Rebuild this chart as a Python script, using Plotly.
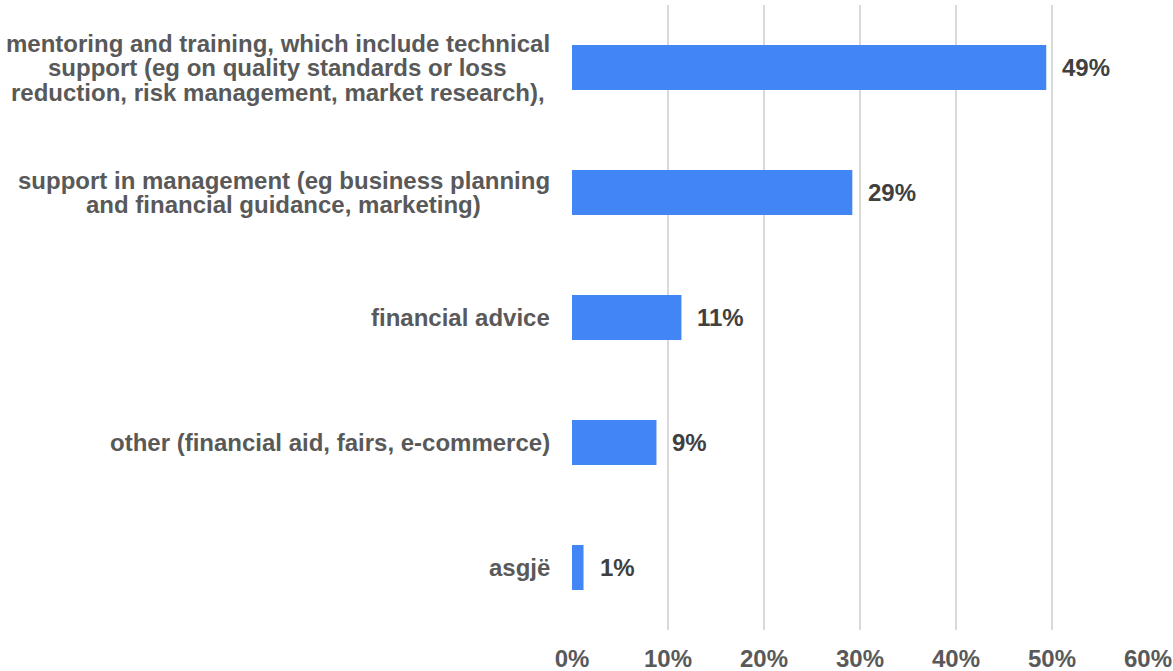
import plotly.graph_objects as go

# Share of respondents naming each type of support
categories = [
    "mentoring and training, which include technical\nsupport (eg on quality standards or loss\nreduction, risk management, market research),",
    "support in management (eg business planning\nand financial guidance, marketing)",
    "financial advice",
    "other (financial aid, fairs, e-commerce)",
    "asgjë",
]
shares = [49.4, 29.2, 11.4, 8.8, 1.2]
tick_values = [0, 10, 20, 30, 40, 50, 60]
tick_labels = ["0%", "10%", "20%", "30%", "40%", "50%", "60%"]

FONT = "Arial, Liberation Sans, sans-serif"
BAR_BLUE = "#4285F4"
TEXT_GREY = "#595959"
LABEL_GREY = "#404040"
FONT_SIZE = 24
LINE_STEP = 24.5   # tight line spacing for wrapped category names
LABEL_GAP = 22     # gap between label block and plot area

# Arial Bold advance widths (1/1000 em) used to centre wrapped lines
_W = {" ": 278, "(": 333, ")": 333, ",": 278, "-": 333, ".": 278, "%": 889,
      "a": 556, "b": 611, "c": 556, "d": 611, "e": 556, "f": 333, "g": 611,
      "h": 611, "i": 278, "j": 278, "k": 556, "l": 278, "m": 889, "n": 611,
      "o": 611, "p": 611, "q": 611, "r": 389, "s": 556, "t": 333, "u": 611,
      "v": 556, "w": 778, "x": 556, "y": 556, "z": 500, "ë": 556}


def text_width(s, size=FONT_SIZE):
    return sum(_W.get(ch, 556) for ch in s) * size / 1000


fig = go.Figure(
    go.Bar(
        x=shares,
        y=categories,
        orientation="h",
        width=0.36,
        marker=dict(color=BAR_BLUE, line=dict(width=0)),
        hoverinfo="skip",
    )
)

# value labels to the right of each bar
for cat, val in zip(categories, shares):
    fig.add_annotation(
        x=val, y=cat, xref="x", yref="y",
        text=f"{val:.0f}%", showarrow=False,
        xanchor="left", yanchor="middle", xshift=14,
        font=dict(family=FONT, size=FONT_SIZE, color=LABEL_GREY, weight="bold"),
    )

# category labels: right-aligned block, each wrapped line centred in it
for cat in categories:
    lines = cat.split("\n")
    n = len(lines)
    block_w = max(text_width(s) for s in lines)
    for i, line in enumerate(lines):
        fig.add_annotation(
            x=0, y=cat, xref="paper", yref="y",
            text=line, showarrow=False,
            xanchor="center", yanchor="middle",
            xshift=-LABEL_GAP - block_w / 2,
            yshift=((n - 1) / 2 - i) * LINE_STEP,
            font=dict(family=FONT, size=FONT_SIZE, color=TEXT_GREY, weight="bold"),
        )

fig.update_layout(
    width=1173, height=671,
    margin=dict(l=572, r=25, t=5, b=41, autoexpand=False),
    plot_bgcolor="white", paper_bgcolor="white",
    showlegend=False,
)
fig.update_xaxes(
    range=[0, 60], tickvals=tick_values, ticktext=tick_labels,
    showgrid=True, gridcolor="#d9d9d9", gridwidth=2,
    zeroline=False, showline=False, ticks="",
    ticklabelstandoff=12, automargin=False,
    tickfont=dict(family=FONT, size=FONT_SIZE, color=TEXT_GREY, weight="bold"),
    fixedrange=True,
)
fig.update_yaxes(
    autorange="reversed", showticklabels=False, showgrid=False,
    zeroline=False, showline=False, ticks="", fixedrange=True,
    automargin=False,
)

fig.write_html("out.html")
